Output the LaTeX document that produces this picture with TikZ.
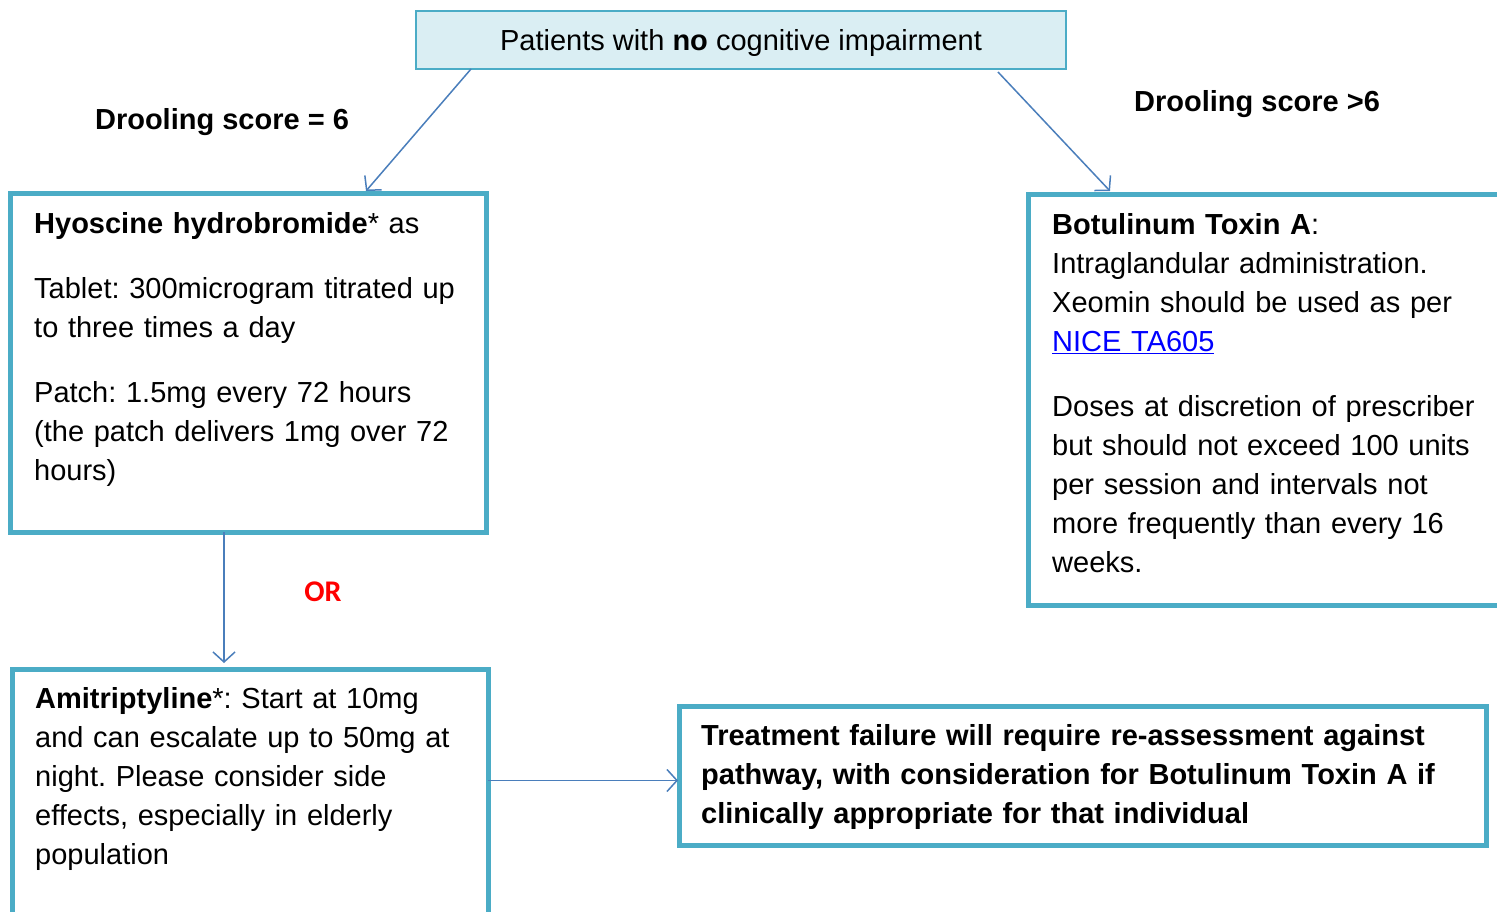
\documentclass[tikz,border=0pt]{standalone}
\usepackage{fontspec}
\setmainfont{Liberation Sans}
\newfontfamily\orfont{Carlito}
\usetikzlibrary{arrows.meta}
\usetikzlibrary{positioning}
\definecolor{boxline}{HTML}{4BACC6}
\definecolor{boxfill}{HTML}{DAEEF3}
\definecolor{arrowline}{HTML}{4A7EBB}
\definecolor{linkblue}{HTML}{0000FF}
\definecolor{orred}{HTML}{FF0000}
\frenchspacing

\begin{document}
\begin{tikzpicture}[x=1pt,y=-1pt,
  pathbox/.style={draw=boxline,line width=5pt,rectangle,anchor=north west,inner sep=0pt,outer sep=0pt},
  pathtext/.style={anchor=base west,inner sep=0pt,text width=#1,align=left,font=\fontsize{29}{39}\selectfont},
  flow/.style={draw=arrowline,line width=1.5pt,-{Straight Barb[length=10pt,width=22pt]}}]
  \clip (0,0) rectangle (1497,912);
  \node[draw=boxline,fill=boxfill,line width=2pt,anchor=north west,minimum width=650pt,minimum height=58pt,inner sep=0pt,outer sep=0pt,text depth=0pt,font=\fontsize{29}{39}\selectfont] (top) at (416,11) {Patients with \textbf{no} cognitive impairment};
  \node[font=\fontsize{29}{39}\selectfont\bfseries,anchor=base] (scoresix) at (222,130) {Drooling score = 6};
  \node[font=\fontsize{29}{39}\selectfont\bfseries,anchor=base] (scoremore) at (1257,112) {Drooling score >6};

  \node[pathbox,minimum width=476pt,minimum height=338pt] (hyoscine) at (10,194) {};
  \node[pathtext=450pt] (hyoscinetext) at (34,234) {\textbf{Hyoscine hydrobromide}* as\\[26pt]
    Tablet: 300microgram titrated up\\ to three times a day\\[26pt]
    Patch: 1.5mg every 72 hours\\ (the patch delivers 1mg over 72\\ hours)};

  \node[pathbox,minimum width=520pt,minimum height=410pt] (botox) at (1028,195) {};
  \node[pathtext=440pt] (botoxtext) at (1052,235) {\textbf{Botulinum Toxin A}:\\ Intraglandular administration.\\
    Xeomin should be used as per\\ {\color{linkblue}\underline{NICE TA605}}\\[26pt]
    Doses at discretion of prescriber\\ but should not exceed 100 units\\ per session and intervals not\\
    more frequently than every 16\\ weeks.};

  \node[pathbox,minimum width=476pt,minimum height=300pt] (amitrip) at (12,669) {};
  \node[pathtext=450pt] (amitriptext) at (35,708) {\textbf{Amitriptyline}*: Start at 10mg\\ and can escalate up to 50mg at\\
    night. Please consider side\\ effects, especially in elderly\\ population};

  \node[pathbox,minimum width=807pt,minimum height=139pt] (failure) at (679,706) {};
  \node[pathtext=780pt,font=\fontsize{29}{39}\selectfont\bfseries] (failuretext) at (701,745) {Treatment failure will require re-assessment against\\
    pathway, with consideration for Botulinum Toxin A if\\ clinically appropriate for that individual};

  \node[font=\orfont\fontsize{30}{36}\selectfont\bfseries,text=orred,anchor=base] (or) at (323,601) {OR};

  \draw[flow] ([xshift=55pt]top.south west) -- ([xshift=356pt,yshift=3pt]hyoscine.north west);
  \draw[flow] ([xshift=-68pt,yshift=-3pt]top.south east) -- ([xshift=82pt,yshift=4pt]botox.north west);
  \draw[flow] ([xshift=214pt]hyoscine.south west) -- ([xshift=212pt,yshift=6pt]amitrip.north west);
  \draw[flow] ([yshift=-5pt]failure.west -| amitrip.east) -- ([yshift=-5pt,xshift=-1pt]failure.west);
\end{tikzpicture}
\end{document}
